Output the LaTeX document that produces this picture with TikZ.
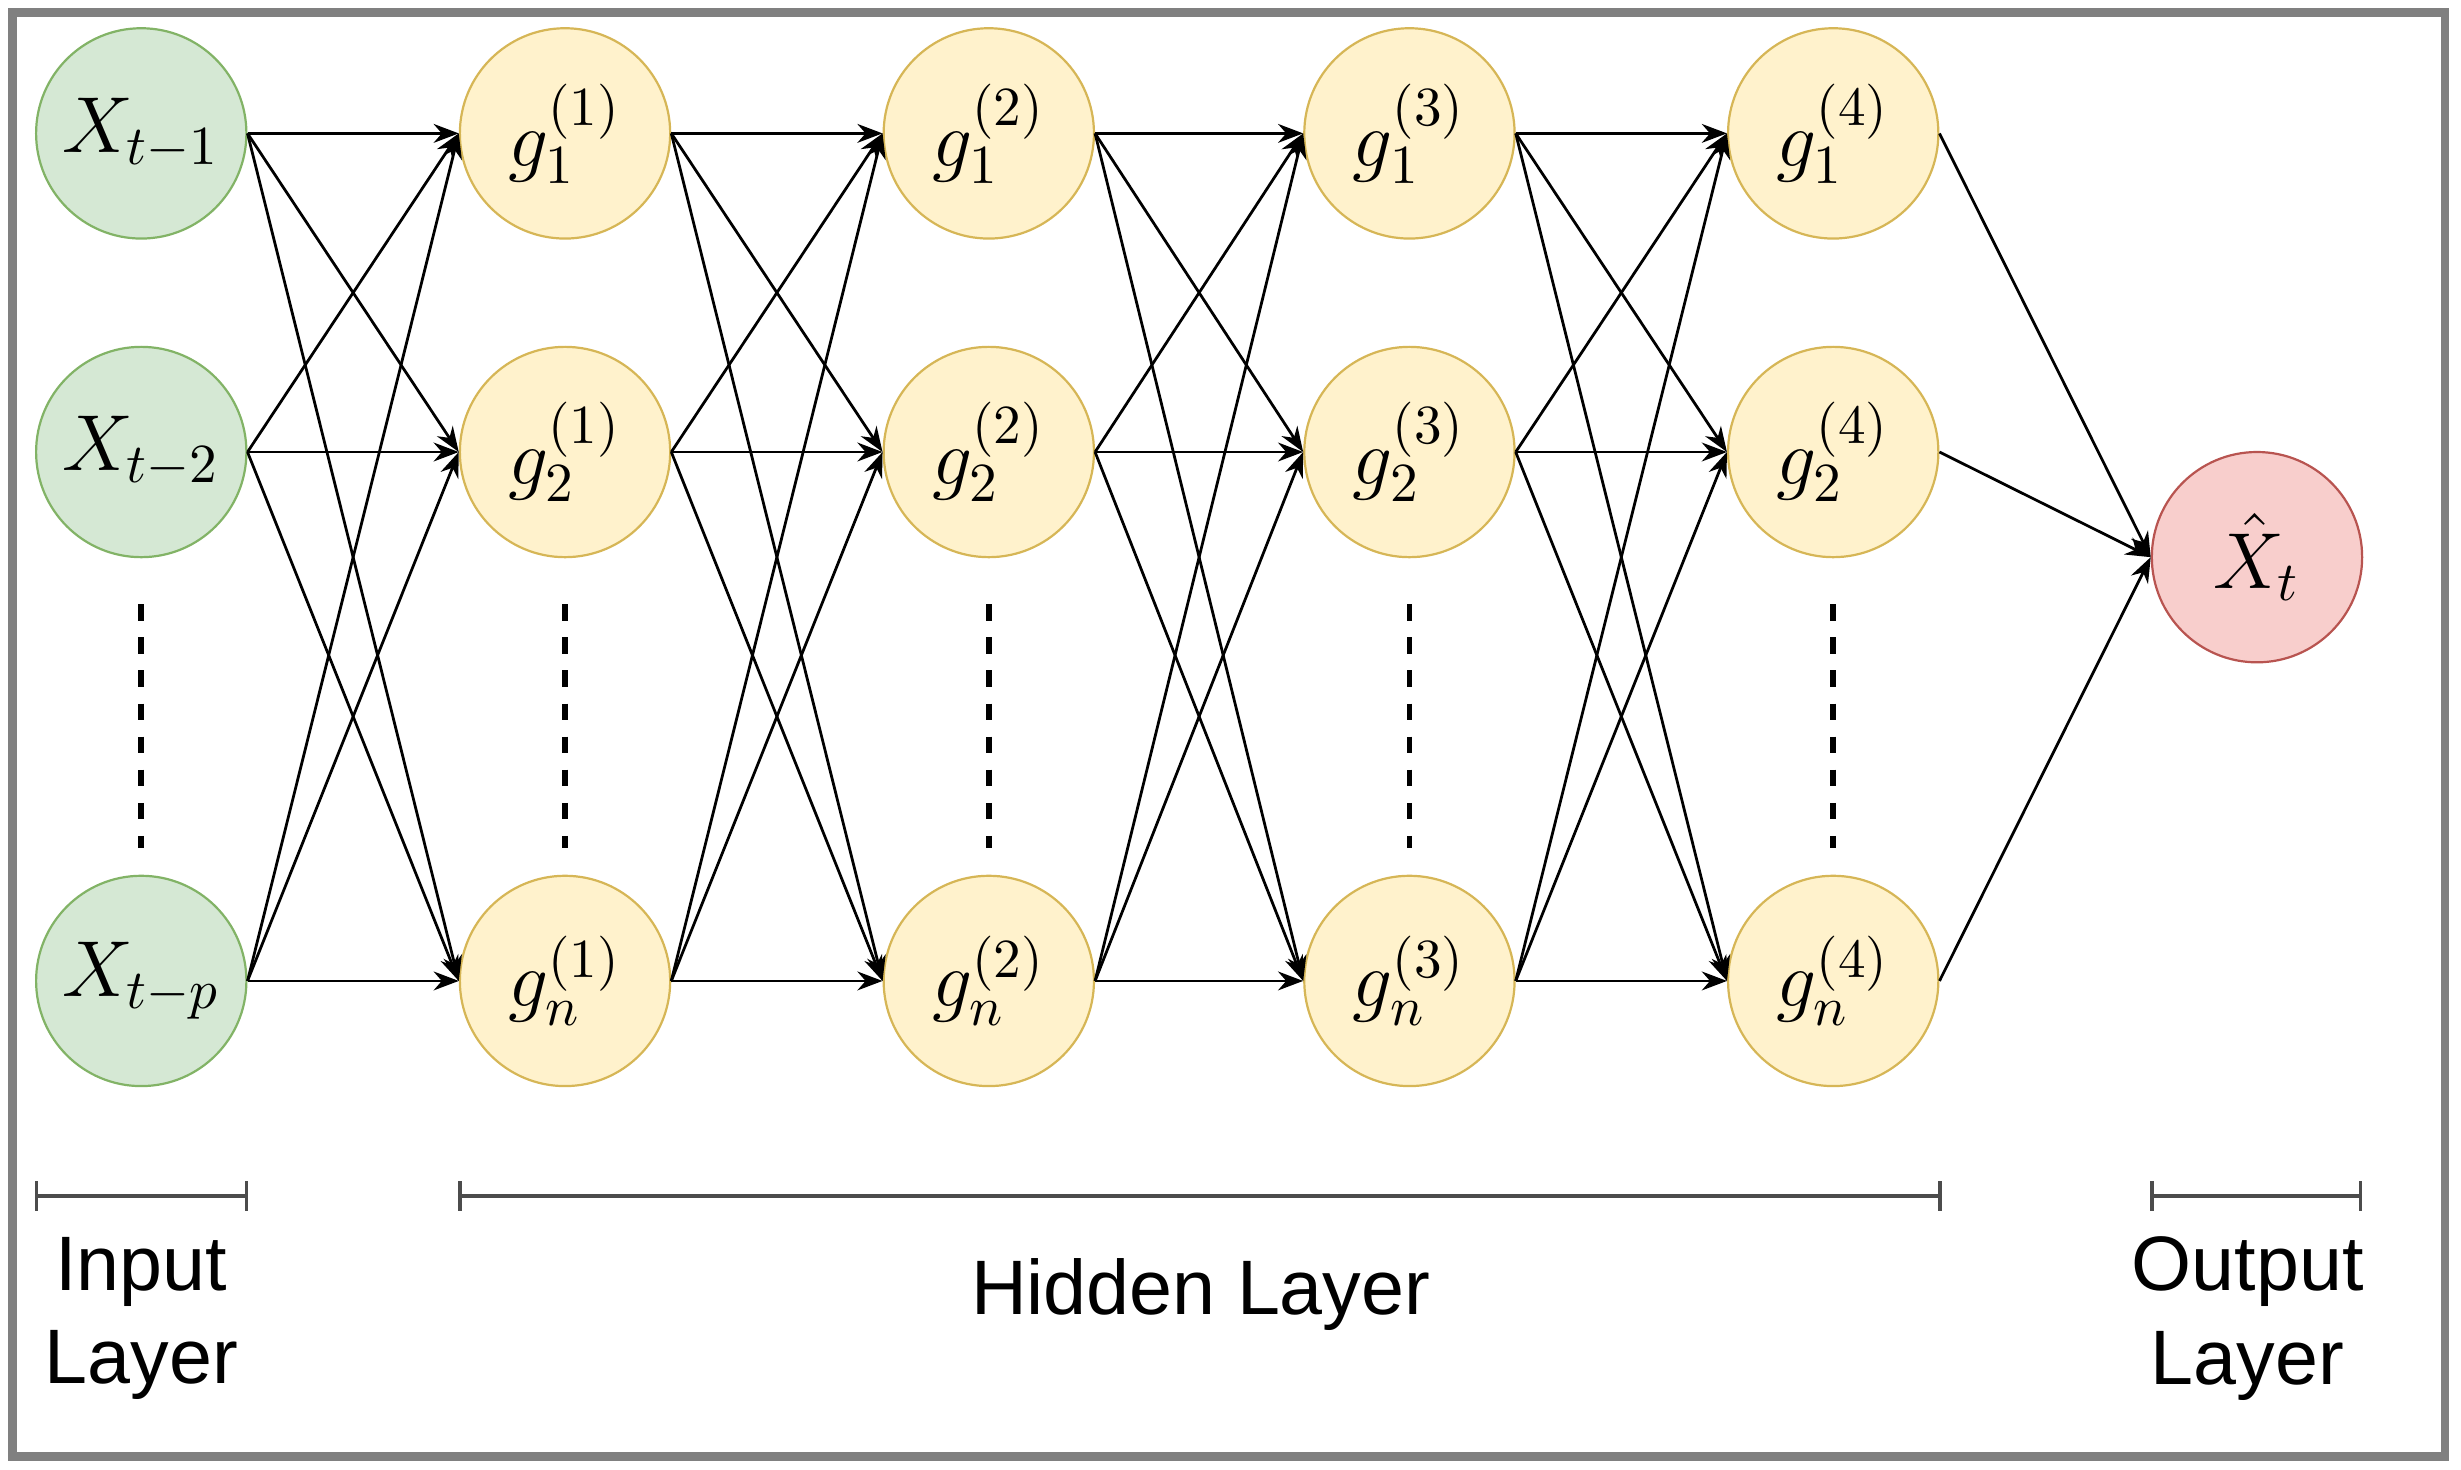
\documentclass[tikz,border=0pt]{standalone}
\usepackage{fontspec}
\setmainfont{Liberation Sans}
\usetikzlibrary{arrows.meta}
\definecolor{ingreen}{HTML}{D5E8D4}
\definecolor{ingreenline}{HTML}{82B366}
\definecolor{hidyellow}{HTML}{FFF2CC}
\definecolor{hidyellowline}{HTML}{D6B656}
\definecolor{outred}{HTML}{F8CECC}
\definecolor{outredline}{HTML}{B85450}
\tikzset{
  neuron/.style = {circle, minimum size = 1.34cm, inner sep = 0pt, font = \Large},
  innode/.style = {neuron, fill = ingreen, draw = ingreenline},
  hidnode/.style = {neuron, fill = hidyellow, draw = hidyellowline},
  outnode/.style = {neuron, fill = outred, draw = outredline},
  conn/.style = {-{Stealth[length=1.6mm, width=1.2mm]}, line width = 0.5pt},
  layerbar/.style = {line width = 0.6pt, gray!60!black},
  layertext/.style = {font = \fontsize{14}{17}\selectfont, align = center}
}
\begin{document}
\begin{tikzpicture}
		% marc
		\useasboundingbox (0,0) rectangle (15.68,-9.36);
		\draw[gray, line width = 1.5pt] (0.08,-0.08) rectangle (15.58,-9.28);
		% capa d'entrada
		\node[innode] (x1) at (0.90,-0.85) {$X_{t-1}$};
		\node[innode] (x2) at (0.90,-2.88) {$X_{t-2}$};
		\node[innode] (xp) at (0.90,-6.25) {$X_{t-p}$};
		\draw[dashed, line width = 1pt] (0.90,-3.85) -- (0.90,-5.40);
		% capes ocultes
		\foreach \l/\x in {1/3.60, 2/6.30, 3/8.98, 4/11.68} {
			\node[hidnode] (g\l a) at (\x,-0.85) {$g_1^{(\l)}$};
			\node[hidnode] (g\l b) at (\x,-2.88) {$g_2^{(\l)}$};
			\node[hidnode] (g\l n) at (\x,-6.25) {$g_n^{(\l)}$};
			\draw[dashed, line width = 1pt] (\x,-3.85) -- (\x,-5.40);
		}
		% capa de sortida
		\node[outnode] (y) at (14.38,-3.55) {$\hat{X}_t$};
		% connexions
		\foreach \s in {x1,x2,xp}
			\foreach \t in {g1a,g1b,g1n}
				\draw[conn] (\s.east) -- (\t.west);
		\foreach \l/\m in {1/2, 2/3, 3/4}
			\foreach \s in {a,b,n}
				\foreach \t in {a,b,n}
					\draw[conn] (g\l\s.east) -- (g\m\t.west);
		\foreach \s in {a,b,n}
			\draw[conn] (g4\s.east) -- (y.west);
		% barres de capa
		\draw[layerbar, |-|] (0.22,-7.62) -- (1.58,-7.62);
		\draw[layerbar, |-|] (2.92,-7.62) -- (12.37,-7.62);
		\draw[layerbar, |-|] (13.70,-7.62) -- (15.05,-7.62);
		\node[layertext] (inlab) at (0.90,-8.40) {Input\\Layer};
		\node[layertext] (hidlab) at (7.65,-8.25) {Hidden Layer};
		\node[layertext] (outlab) at (14.32,-8.40) {Output\\Layer};
\end{tikzpicture}
\end{document}
